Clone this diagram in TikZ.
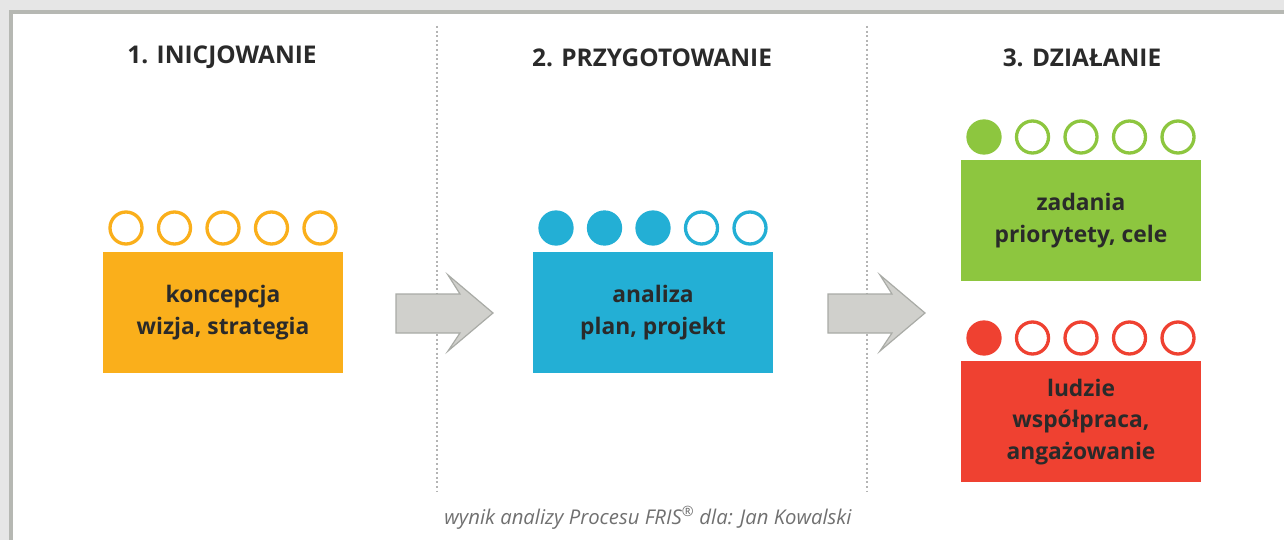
\documentclass[tikz,border=0pt]{standalone}
\usepackage{fontspec}
\setmainfont{Open Sans}
\definecolor{bgGray}{HTML}{E6E6E6}
\definecolor{frameGray}{HTML}{B6B8B3}
\definecolor{cOrange}{HTML}{FAAF1B}
\definecolor{cBlue}{HTML}{23AFD5}
\definecolor{cGreen}{HTML}{8DC63F}
\definecolor{cRed}{HTML}{EF4131}
\definecolor{txtDark}{HTML}{2A2A2A}
\definecolor{capGray}{HTML}{707070}
\definecolor{arrFill}{HTML}{D0D0CC}
\definecolor{arrDraw}{HTML}{A9ABA6}
\definecolor{dotGray}{HTML}{B4B4B4}
\begin{document}
\begin{tikzpicture}[x=1pt,y=-1pt,
  titletext/.style={font=\fontsize{24.4}{28}\selectfont\bfseries, text=txtDark},
  stagebox/.style={minimum width=240pt, minimum height=121pt, inner sep=0pt, align=center,
     font=\fontsize{22.8}{31.5}\selectfont\bfseries, text=txtDark},
  ringdot/.style={circle, minimum size=32pt, inner sep=0pt, line width=3.3pt, draw=#1, fill=white},
  filldot/.style={circle, minimum size=35.3pt, inner sep=0pt, fill=#1},
  sep/.style={dotGray, line width=1.6pt, dash pattern=on 2pt off 2.6pt},
  bigarrow/.style={fill=arrFill, draw=arrDraw, line width=1.2pt, line join=miter}
]
\useasboundingbox (0,0) rectangle (1284,540);
\fill[bgGray] (0,0) rectangle (1284,540);
\filldraw[fill=white, draw=frameGray, line width=4pt] (11,12) rectangle (1300,560);

% separators
\draw[sep] (437,26) -- (437,492);
\draw[sep] (867,26) -- (867,492);

% titles
\node[titletext] (t1) at (222,57.5) {1. INICJOWANIE};
\node[titletext] (t2) at (652,57.5) {2. PRZYGOTOWANIE};
\node[titletext] (t3) at (1082,57.5) {3. DZIAŁANIE};

% boxes
\node[stagebox, fill=cOrange, anchor=north] (b1) at (223,252) {koncepcja\\wizja, strategia};
\node[stagebox, fill=cBlue, anchor=north] (b2) at (653,252) {analiza\\plan, projekt};
\node[stagebox, fill=cGreen, anchor=north] (b3) at (1081,160) {zadania\\priorytety, cele};
\node[stagebox, fill=cRed, anchor=north] (b4) at (1081,361) {ludzie\\współpraca,\\angażowanie};

% circles
\foreach \i in {0,...,4} {
  \node[ringdot=cOrange] (o\i) at ({223+(\i-2)*48.5},228) {};
}
\foreach \i in {0,1,2} {
  \node[filldot=cBlue] (p\i) at ({653+(\i-2)*48.5},228) {};
}
\foreach \i in {3,4} {
  \node[ringdot=cBlue] (p\i) at ({653+(\i-2)*48.5},228) {};
}
\node[filldot=cGreen] (g0) at ({1081-2*48.5},137) {};
\foreach \i in {1,...,4} {
  \node[ringdot=cGreen] (g\i) at ({1081+(\i-2)*48.5},137) {};
}
\node[filldot=cRed] (r0) at ({1081-2*48.5},338) {};
\foreach \i in {1,...,4} {
  \node[ringdot=cRed] (r\i) at ({1081+(\i-2)*48.5},338) {};
}

% arrows
\foreach \dx in {0,432} {
  \draw[bigarrow] (396+\dx,294) -- (460+\dx,294) -- (448+\dx,275) -- (493+\dx,313)
     -- (448+\dx,351) -- (460+\dx,333) -- (396+\dx,333) -- cycle;
}

% caption
\node[font=\fontsize{20.3}{23}\selectfont\itshape, text=capGray] (cap) at (648,518)
  {wynik analizy Procesu FRIS\textsuperscript{\textregistered} dla: Jan Kowalski};
\end{tikzpicture}
\end{document}
